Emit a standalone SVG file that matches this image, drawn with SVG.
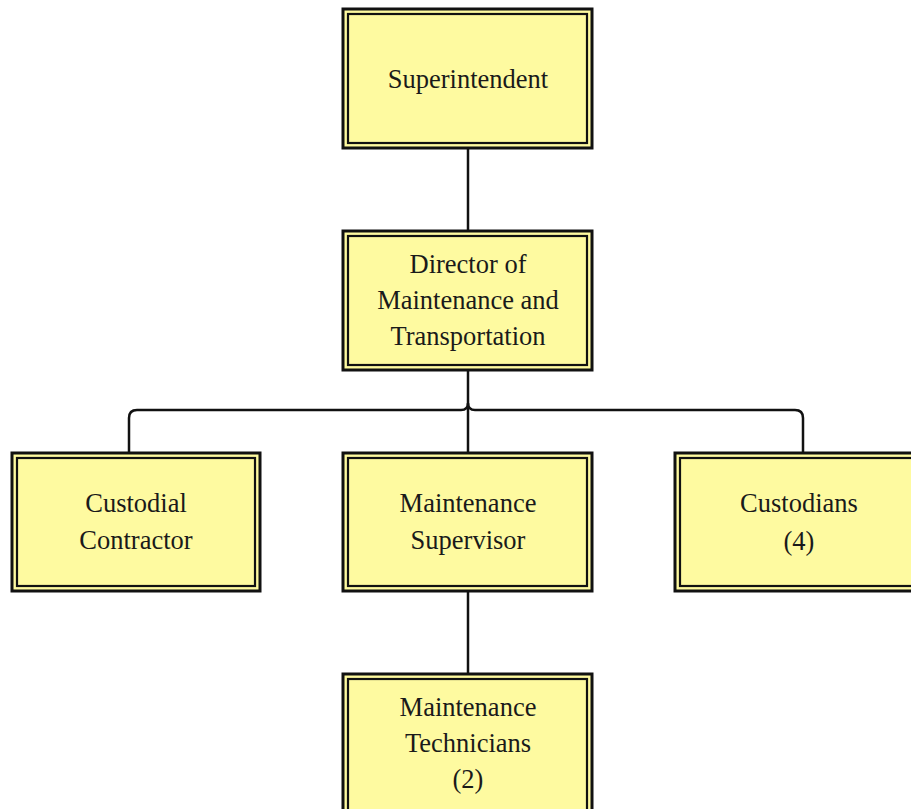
<svg xmlns="http://www.w3.org/2000/svg" width="911" height="809" viewBox="0 0 911 809">
<style>
.o{fill:#fefaa0;stroke:#111;stroke-width:3}
.i{fill:none;stroke:#111;stroke-width:2.2}
.t{font-family:"Liberation Serif","Times New Roman",serif;font-size:26.5px;fill:#1a1a1a;text-anchor:middle}
.c{fill:none;stroke:#111;stroke-width:2.5}
</style>
<rect width="911" height="809" fill="#fff"/>
<g id="connectors">
<line class="c" x1="468" y1="148" x2="468" y2="231"/>
<line class="c" x1="468" y1="370" x2="468" y2="453"/>
<path class="c" d="M129 453 V418 Q129 410 137 410 H461 Q468 410 468 403 Q468 410 475 410 H795 Q803 410 803 418 V453"/>
<line class="c" x1="468" y1="591" x2="468" y2="674"/>
</g>
<g id="superintendent">
<rect class="o" x="343" y="9" width="249" height="139"/>
<rect class="i" x="348" y="14" width="239" height="129"/>
<text class="t" x="468" y="88">Superintendent</text>
</g>
<g id="director">
<rect class="o" x="343" y="231" width="249" height="139"/>
<rect class="i" x="348" y="236" width="239" height="129"/>
<text class="t" x="468" y="273">Director of</text>
<text class="t" x="468" y="309">Maintenance and</text>
<text class="t" x="468" y="345">Transportation</text>
</g>
<g id="custodial">
<rect class="o" x="12" y="453" width="248" height="138"/>
<rect class="i" x="17" y="458" width="238" height="128"/>
<text class="t" x="136" y="512">Custodial</text>
<text class="t" x="136" y="549">Contractor</text>
</g>
<g id="supervisor">
<rect class="o" x="343" y="453" width="249" height="138"/>
<rect class="i" x="348" y="458" width="239" height="128"/>
<text class="t" x="468" y="512">Maintenance</text>
<text class="t" x="468" y="549">Supervisor</text>
</g>
<g id="custodians">
<rect class="o" x="675" y="453" width="250" height="138"/>
<rect class="i" x="680" y="458" width="240" height="128"/>
<text class="t" x="799" y="512">Custodians</text>
<text class="t" x="799" y="550">(4)</text>
</g>
<g id="technicians">
<rect class="o" x="343" y="674" width="249" height="145"/>
<rect class="i" x="348" y="679" width="239" height="135"/>
<text class="t" x="468" y="716">Maintenance</text>
<text class="t" x="468" y="752">Technicians</text>
<text class="t" x="468" y="788">(2)</text>
</g>
</svg>
